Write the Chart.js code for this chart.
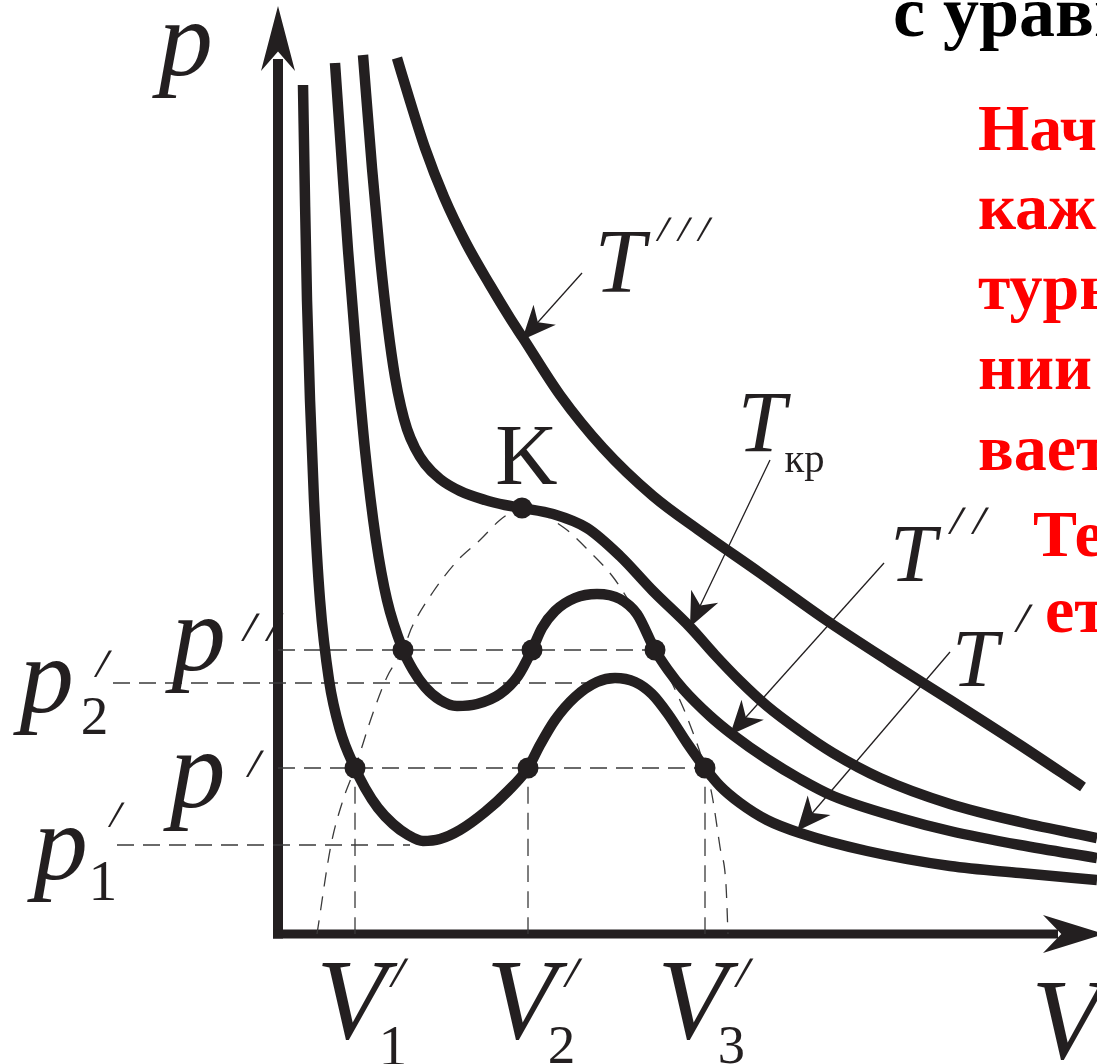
<!DOCTYPE html>
<html>
<head>
<meta charset="utf-8">
<script src="https://cdn.jsdelivr.net/npm/chart.js@4.4.1/dist/chart.umd.min.js"></script>
<style>
  html, body { margin: 0; padding: 0; background: #fff; }
  #wrap { width: 1097px; height: 1064px; position: relative; }
</style>
</head>
<body>
<div id="wrap"><canvas id="pv"></canvas></div>
<script>
// Van der Waals isotherms in the p–V plane (V and p in plot units, origin at the axes corner)

// T′ – lowest isotherm
const t1V = [0.25, 0.27, 0.29, 0.32, 0.36, 0.42, 0.51, 0.62, 0.77, 0.87, 1.00, 1.15, 1.30, 1.45, 1.62, 1.82, 2.07, 2.30, 2.50, 2.62, 2.77, 2.97, 3.19, 3.37, 3.57, 3.74, 3.90, 4.09, 4.27, 4.42, 4.62, 4.89, 5.22, 5.89, 6.72, 7.42, 8.19];
const t1P = [8.49, 7.34, 6.34, 5.34, 4.34, 3.34, 2.54, 2.04, 1.66, 1.46, 1.26, 1.10, 0.99, 0.93, 0.95, 1.04, 1.22, 1.43, 1.66, 1.89, 2.14, 2.37, 2.52, 2.56, 2.52, 2.40, 2.20, 1.91, 1.66, 1.48, 1.31, 1.14, 1.01, 0.83, 0.68, 0.61, 0.54];

// T″
const t2V = [0.57, 0.63, 0.70, 0.78, 0.87, 0.98, 1.09, 1.25, 1.35, 1.47, 1.62, 1.79, 1.99, 2.22, 2.40, 2.54, 2.64, 2.77, 2.97, 3.19, 3.42, 3.59, 3.77, 3.90, 4.05, 4.32, 4.55, 4.89, 5.22, 5.55, 6.22, 6.72, 7.42, 8.19];
const t2P = [8.71, 7.84, 6.84, 5.84, 4.84, 3.94, 3.34, 2.84, 2.64, 2.47, 2.34, 2.28, 2.30, 2.40, 2.58, 2.84, 3.06, 3.23, 3.36, 3.40, 3.35, 3.20, 2.84, 2.64, 2.45, 2.18, 1.99, 1.75, 1.55, 1.38, 1.16, 1.03, 0.89, 0.76];

// T кр – critical isotherm through K
const tkV = [0.85, 0.94, 1.02, 1.10, 1.17, 1.23, 1.29, 1.37, 1.47, 1.62, 1.82, 2.07, 2.27, 2.44, 2.75, 3.09, 3.42, 3.75, 4.12, 4.37, 4.62, 4.89, 5.22, 5.55, 6.02, 6.72, 7.42, 8.19];
const tkP = [8.79, 7.66, 6.78, 6.06, 5.57, 5.27, 5.05, 4.86, 4.70, 4.55, 4.43, 4.34, 4.29, 4.26, 4.20, 4.06, 3.78, 3.43, 3.07, 2.79, 2.53, 2.28, 2.03, 1.81, 1.56, 1.30, 1.12, 0.96];

// T‴ – above critical
const t3V = [1.19, 1.32, 1.47, 1.66, 1.88, 2.12, 2.32, 2.45, 2.82, 3.25, 3.75, 4.22, 4.82, 5.45, 6.12, 6.72, 7.42, 8.05];
const t3P = [8.76, 8.33, 7.86, 7.37, 6.91, 6.49, 6.16, 5.96, 5.39, 4.86, 4.38, 4.03, 3.61, 3.16, 2.72, 2.34, 1.89, 1.47];

// boundary of the two-phase region (dashed dome)
const domeV = [0.39, 0.53, 0.65, 0.77, 0.95, 1.09, 1.25, 1.34, 1.55, 1.80, 2.02, 2.22, 2.34, 2.44, 2.85, 3.12, 3.35, 3.52, 3.77, 3.94, 4.09, 4.27, 4.34, 4.42, 4.48, 4.50];
const domeP = [0.00, 0.89, 1.34, 1.66, 2.21, 2.57, 2.84, 3.07, 3.42, 3.74, 3.94, 4.14, 4.22, 4.26, 4.07, 3.82, 3.57, 3.31, 2.84, 2.51, 2.17, 1.66, 1.39, 0.87, 0.49, 0.00];

// marked points: V₁′ V₂′ V₃′ on p′, three on p″, and K
const dotV = [0.77, 2.50, 4.27, 1.25, 2.54, 3.77, 2.44];
const dotP = [1.66, 1.66, 1.66, 2.84, 2.84, 2.84, 4.26];

// horizontal guides: p″, p₂′, p′, p₁′
const guideP = [2.84, 2.51, 1.66, 0.89];
const guideFrom = [0, -1.65, 0, -1.61];
const guideTo = [3.77, 3.12, 4.27, 1.32];
// vertical drops to V₁′, V₂′, V₃′
const dropV = [0.77, 2.50, 4.27];
const dropTop = 1.66;

// leader arrows [fromV, fromP, tipV, tipP]: T‴, Tкр, T″, T′
const leaders = [
  [3.04, 6.61, 2.44, 5.94],
  [4.92, 4.74, 4.12, 3.07],
  [6.06, 3.71, 4.52, 1.99],
  [6.72, 2.82, 5.19, 1.03]
];

const INK = '#231f20';
const SERIF = '"Liberation Serif", "Times New Roman", serif';
const IT = 'italic 100px ' + SERIF;
const UP = '100px ' + SERIF;
const PR = '100 100px "Noto Sans", sans-serif';

// [text, font, inkLeft(V), inkTop(p), inkHeight]
const labels = [
  ['p', IT, -1.26, 9.11, 0.75],
  ['K', UP, 2.19, 5.06, 0.57],
  ['T', IT, 3.22, 7.01, 0.60], ['\u2032\u2032\u2032', PR, 3.77, 7.17, 0.24],
  ['T', IT, 4.65, 5.39, 0.57], ['кр', UP, 5.07, 4.81, 0.28],
  ['T', IT, 6.17, 4.07, 0.55], ['\u2032\u2032', PR, 6.69, 4.27, 0.27],
  ['T', IT, 6.79, 3.02, 0.55], ['\u2032', PR, 7.35, 3.31, 0.28],
  ['p', IT, -1.13, 3.16, 0.75], ['\u2032\u2032', PR, -0.38, 3.22, 0.28],
  ['p', IT, -1.15, 1.81, 0.77], ['\u2032', PR, -0.33, 1.84, 0.27],
  ['p', IT, -2.65, 2.74, 0.75], ['2', UP, -1.95, 2.36, 0.37], ['\u2032', PR, -1.85, 2.84, 0.27],
  ['p', IT, -2.51, 1.07, 0.75], ['1', UP, -1.85, 0.72, 0.38], ['\u2032', PR, -1.71, 1.32, 0.25],
  ['V', IT, 0.44, -0.29, 0.77], ['1', UP, 1.05, -0.93, 0.38], ['\u2032', PR, 1.10, -0.24, 0.29],
  ['V', IT, 2.14, -0.29, 0.77], ['2', UP, 2.72, -0.93, 0.37], ['\u2032', PR, 2.84, -0.24, 0.29],
  ['V', IT, 3.85, -0.29, 0.77], ['3', UP, 4.42, -0.93, 0.37], ['\u2032', PR, 4.55, -0.24, 0.29],
  ['V', IT, 7.59, -0.49, 0.77]
];

// slide text running off the right edge: [text, colour, left(V), baseline(p), size]
const sideText = [
  ['с уравн', '#000000', 6.15, 8.98, 72],
  ['Начи', '#ff0000', 7.00, 7.84, 66],
  ['кажд', '#ff0000', 7.00, 7.05, 66],
  ['туры', '#ff0000', 7.00, 6.25, 66],
  ['нии', '#ff0000', 7.00, 5.45, 66],
  ['вает', '#ff0000', 7.00, 4.64, 66],
  ['Те', '#ff0000', 7.55, 3.78, 66],
  ['ет', '#ff0000', 7.67, 3.02, 66]
];

const pts = (vs, ps) => vs.map((v, i) => ({ x: v, y: ps[i] }));

function curve(vs, ps) {
  return {
    data: pts(vs, ps), showLine: true, borderColor: INK, borderWidth: 10.5,
    cubicInterpolationMode: 'monotone', pointRadius: 0, borderCapStyle: 'butt', borderJoinStyle: 'round'
  };
}

function dashed(data, dash) {
  return {
    data: data, showLine: true, borderColor: '#3a3a3a', borderWidth: 1.3,
    borderDash: dash, cubicInterpolationMode: 'monotone', pointRadius: 0
  };
}

const datasets = [
  { data: pts(dotV, dotP), showLine: false, pointRadius: 10.5, pointBackgroundColor: INK, pointBorderWidth: 0 },
  curve(t1V, t1P), curve(t2V, t2P), curve(tkV, tkP), curve(t3V, t3P),
  dashed(pts(domeV, domeP), [14, 10])
];
guideP.forEach((p, i) => datasets.push(dashed([{ x: guideFrom[i], y: p }, { x: guideTo[i], y: p }], [17, 9])));
dropV.forEach(v => datasets.push(dashed([{ x: v, y: 0 }, { x: v, y: dropTop }], [17, 9])));

function arrowHead(ctx, tx, ty, fx, fy, len, half) {
  const d = Math.hypot(fx - tx, fy - ty);
  const ux = (fx - tx) / d, uy = (fy - ty) / d;
  const nx = -uy, ny = ux;
  ctx.beginPath();
  ctx.moveTo(tx, ty);
  ctx.lineTo(tx + ux * len + nx * half, ty + uy * len + ny * half);
  ctx.lineTo(tx + ux * len * 0.7, ty + uy * len * 0.7);
  ctx.lineTo(tx + ux * len - nx * half, ty + uy * len - ny * half);
  ctx.closePath();
  ctx.fill();
}

function inkText(ctx, s, font, left, top, h) {
  ctx.font = font;
  const m = ctx.measureText(s);
  const asc = m.actualBoundingBoxAscent, desc = m.actualBoundingBoxDescent;
  const k = h / (asc + desc);
  ctx.save();
  ctx.translate(left, top);
  ctx.scale(k, k);
  ctx.textAlign = 'left';
  ctx.textBaseline = 'alphabetic';
  ctx.fillText(s, m.actualBoundingBoxLeft, asc);
  ctx.restore();
}

const diagram = {
  id: 'diagram',
  beforeDatasetsDraw(chart) {
    const { ctx, scales: { x, y } } = chart;
    const X = v => x.getPixelForValue(v), Y = p => y.getPixelForValue(p);
    ctx.save();
    ctx.strokeStyle = INK;
    ctx.fillStyle = INK;
    ctx.lineCap = 'butt';
    // p axis
    ctx.lineWidth = 10;
    ctx.beginPath();
    ctx.moveTo(X(0), Y(-0.045));
    ctx.lineTo(X(0), Y(8.75));
    ctx.stroke();
    arrowHead(ctx, X(0), Y(9.28), X(0), Y(0), Y(8.67) - Y(9.28) + 4, 17);
    // V axis
    ctx.lineWidth = 9;
    ctx.beginPath();
    ctx.moveTo(X(-0.05), Y(0));
    ctx.lineTo(X(7.8), Y(0));
    ctx.stroke();
    arrowHead(ctx, X(8.26), Y(0), X(0), Y(0), X(8.26) - X(7.69) + 4, 19);
    ctx.restore();
  },
  afterDatasetsDraw(chart) {
    const { ctx, scales: { x, y } } = chart;
    const X = v => x.getPixelForValue(v), Y = p => y.getPixelForValue(p);
    const unit = Math.abs(Y(0) - Y(1));
    ctx.save();
    ctx.strokeStyle = INK;
    ctx.fillStyle = INK;
    ctx.lineWidth = 1.3;
    leaders.forEach(([fv, fp, tv, tp]) => {
      ctx.beginPath();
      ctx.moveTo(X(fv), Y(fp));
      ctx.lineTo(X(tv), Y(tp));
      ctx.stroke();
      arrowHead(ctx, X(tv), Y(tp), X(fv), Y(fp), 34, 15);
    });
    labels.forEach(([s, font, v, p, h]) => inkText(ctx, s, font, X(v), Y(p), h * unit));
    ctx.textBaseline = 'alphabetic';
    sideText.forEach(([s, col, v, p, size]) => {
      ctx.font = 'bold ' + size + 'px ' + SERIF;
      ctx.fillStyle = col;
      ctx.fillText(s, X(v), Y(p));
    });
    ctx.restore();
  }
};

new Chart(document.getElementById('pv'), {
  type: 'scatter',
  data: { datasets },
  options: {
    responsive: true,
    maintainAspectRatio: false,
    animation: false,
    layout: { padding: 0, autoPadding: false },
    plugins: { legend: { display: false }, tooltip: { enabled: false } },
    scales: {
      x: { type: 'linear', min: -2.78, max: 8.19, display: false },
      y: { type: 'linear', min: -1.30, max: 9.34, display: false }
    }
  },
  plugins: [diagram]
});
</script>
</body>
</html>
